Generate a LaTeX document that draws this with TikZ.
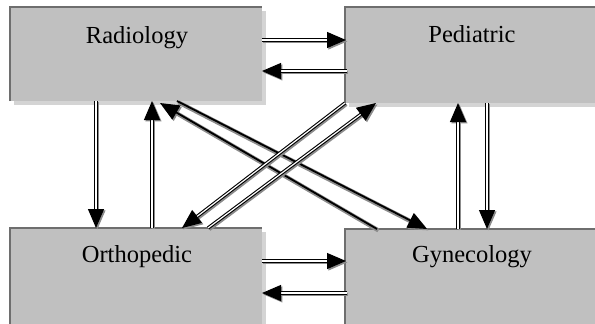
\documentclass[tikz,border=0pt]{standalone}
\usepackage{fontspec}
\setmainfont{Liberation Serif}
\usetikzlibrary{arrows.meta,shadows}
\definecolor{boxfill}{HTML}{C0C0C0}
\definecolor{boxedge}{HTML}{6E6E6E}
\definecolor{boxshade}{HTML}{D4D4D4}
\definecolor{lineshade}{HTML}{8C8C8C}
\tikzset{
  dept/.style={rectangle, fill=boxfill, inner sep=0pt, outer sep=0pt, anchor=north west,
    general shadow={fill=boxshade, shadow xshift=4pt, shadow yshift=-4pt}},
  edge/.style={draw=boxedge, line width=2pt},
  deptname/.style={anchor=base, font=\fontsize{24.5}{28}\selectfont, inner sep=0pt},
  headtip/.style={-{Triangle[length=19pt,width=16pt]}},
  dbl/.style={headtip, line width=1.1pt, double distance=1.2pt},
  sgl/.style={headtip, line width=1.8pt},
  shd/.style={draw=lineshade, double=lineshade, transform canvas={xshift=1.4pt,yshift=-1.4pt}},
}
\begin{document}
\begin{tikzpicture}[x=1pt,y=-1pt]
\clip (0,0) rectangle (595,324);
\fill[white] (0,0) rectangle (595,324);
% boxes
\node[dept, minimum width=252pt, minimum height=94pt] (rad) at (10,7) {};
\node[dept, minimum width=255pt, minimum height=96pt] (ped) at (345,7) {};
\node[dept, minimum width=252pt, minimum height=100pt] (ort) at (10,228) {};
\node[dept, minimum width=255pt, minimum height=100pt] (gyn) at (345,229) {};
\foreach \n in {rad,ped,ort,gyn}{
  \draw[edge] (\n.south west) -- (\n.north west) -- (\n.north east);
}
% labels
\node[deptname] (radt) at (137,43) {Radiology};
\node[deptname] (pedt) at (472,42) {Pediatric};
\node[deptname] (ortt) at (137,262) {Orthopedic};
\node[deptname] (gynt) at (472,262) {Gynecology};
% connector end points
\coordinate (a1) at ([yshift=-33pt]rad.north east);
\coordinate (b1) at ([xshift=1pt,yshift=-33pt]ped.north west);
\coordinate (a2) at ([xshift=2pt,yshift=-64pt]ped.north west);
\coordinate (b2) at ([yshift=-64pt]rad.north east);
\coordinate (a3) at ([yshift=-33pt]ort.north east);
\coordinate (b3) at ([xshift=1pt,yshift=-32pt]gyn.north west);
\coordinate (a4) at ([xshift=2pt,yshift=-64pt]gyn.north west);
\coordinate (b4) at ([yshift=-65pt]ort.north east);
\coordinate (a5) at ([xshift=86pt]rad.south west);
\coordinate (b5) at ([xshift=86pt]ort.north west);
\coordinate (a6) at ([xshift=142pt]ort.north west);
\coordinate (b6) at ([xshift=142pt]rad.south west);
\coordinate (a7) at ([xshift=113pt]gyn.north west);
\coordinate (b7) at ([xshift=113pt]ped.south west);
\coordinate (a8) at ([xshift=142pt]ped.south west);
\coordinate (b8) at ([xshift=142pt]gyn.north west);
\coordinate (a9) at (ped.south west);
\coordinate (b9) at ([xshift=172pt]ort.north west);
\coordinate (a10) at ([xshift=198pt]ort.north west);
\coordinate (b10) at ([xshift=31pt]ped.south west);
\coordinate (a11) at ([xshift=167pt]rad.south west);
\coordinate (b11) at ([xshift=82pt]gyn.north west);
\coordinate (a12) at ([xshift=32pt]gyn.north west);
\coordinate (b12) at ([xshift=150pt,yshift=-2pt]rad.south west);
% single-line connectors
\foreach \i in {11,12}{
  \draw[sgl, shd] (a\i) -- (b\i);
  \draw[sgl] (a\i) -- (b\i);
}
% double-line connectors
\foreach \i in {1,...,10}{
  \draw[dbl, shd] (a\i) -- (b\i);
  \draw[dbl] (a\i) -- (b\i);
}
\end{tikzpicture}
\end{document}
